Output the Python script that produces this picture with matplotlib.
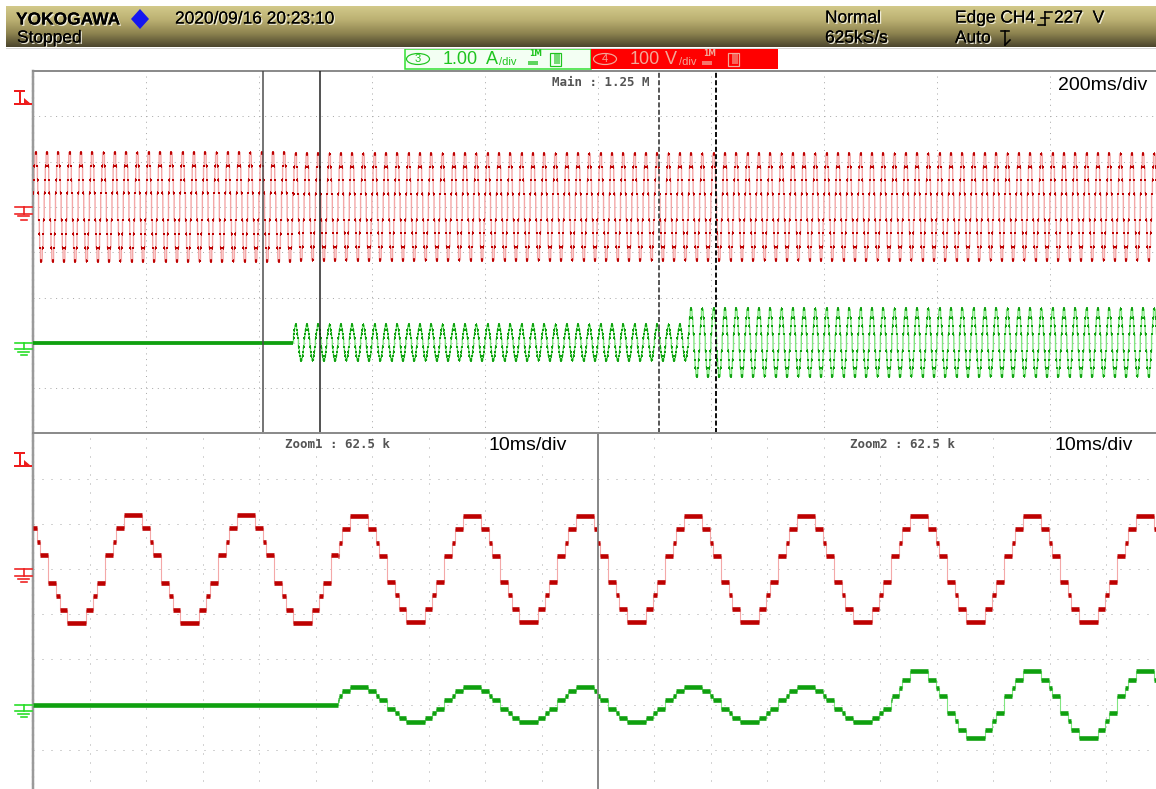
import numpy as np
import matplotlib
matplotlib.use('Agg')
import matplotlib.pyplot as plt
import matplotlib.patheffects as pe
from matplotlib.colors import LinearSegmentedColormap
from matplotlib.lines import Line2D
from matplotlib.patches import Rectangle, Ellipse, Polygon

W, H = 1156, 789

#---------------------------------------------------------------------------------------
# acquisition / channel settings

freq = 50.0
t_zero = 0.0198               # rising zero crossing of CH4 [s]
main_span = 2.0               # 10 div x 200 ms
zoom_span = 0.1               # 10 div x 10 ms
zoom_starts = [0.4071, 1.108] # Zoom1, Zoom2 window start [s]

# one cycle of the multilevel inverter output: switching angle [deg] -> level
step_deg = [0, 25, 36, 61, 119, 144, 155, 180, 205, 216, 241, 299, 324, 335]
step_lvl = [1, 2, 3, 4, 3, 2, 1, -1, -2, -3, -4, -3, -2, -1]

# load switching instants and size of one level
t_load = [0.461, 1.160]
v_step = [30.0, 29.3]          # V per level (no load / loaded)
i_step = [0.0, 0.097, 0.185]   # A per level (no load / load 1 / load 1+2)

v_div, i_div = 100.0, 1.0      # CH4 100 V/div, CH3 1.00 A/div
v_pos, i_pos = 3, 6            # ground position, div from top
trig_level = 227.0

RED_D, RED_L = '#bd0000', '#f4a8a8'
GRN_D, GRN_L = '#0fa00f', '#80e680'
FONT = 'Liberation Sans'


def fx(x):
    return x / W


def fy(y):
    return 1 - y / H


PX = 0.72   # one pixel in points at 100 dpi


def staircase(t_lo, t_hi):
    n0 = int(np.floor((t_lo - t_zero) * freq)) - 1
    n1 = int(np.ceil((t_hi - t_zero) * freq)) + 1
    cyc = np.arange(n0, n1)
    edges = (t_zero + (cyc[:, None] + np.array(step_deg)[None, :] / 360.0) / freq).ravel()
    lvl = np.tile(step_lvl, len(cyc))
    # split segments at load steps so the amplitude changes there
    cut = np.clip(np.searchsorted(edges, t_load, side='right') - 1, 0, len(lvl) - 1)
    edges = np.concatenate([edges, t_load])
    lvl = np.concatenate([lvl, lvl[cut]])
    order = np.argsort(edges, kind='stable')
    edges, lvl = edges[order], lvl[order]
    a, b, lv = edges[:-1], edges[1:], lvl[:-1]
    keep = (b > t_lo) & (a < t_hi)
    return np.clip(a[keep], t_lo, t_hi), np.clip(b[keep], t_lo, t_hi), lv[keep]


def volts(ts, lv):
    return lv * np.where(ts < t_load[0], v_step[0], v_step[1])


def amps(ts, lv):
    k = np.searchsorted(t_load, ts, side='right')
    return lv * np.array(i_step)[k]


def draw_trace(ax, a, b, vals, dark, light, flat_px, edge_px, dot_px=0):
    # join neighbouring segments that hold the same value
    idx = np.flatnonzero(np.r_[True, vals[1:] != vals[:-1]])
    a, b, vals = a[idx], np.r_[a[idx[1:]], b[-1]], vals[idx]
    tt = np.append(a, b[-1])
    yy = np.append(vals, vals[-1])
    ax.step(tt, yy, where='post', color=light, lw=edge_px * PX, zorder=2)
    ax.hlines(vals, a, b, colors=dark, lw=flat_px * PX, capstyle='butt', zorder=3)
    if dot_px:
        # compressed time base: every held level shows up as a dot
        ax.plot((a + b) / 2, vals, 's', color=dark, ms=dot_px * PX, mew=0, zorder=3)


def scope_axes(x0, y0, w, h, t_lo, span, dot_px):
    ax = fig.add_axes([fx(x0), fy(y0 + h), w / W, h / H])
    ax.set_xlim(t_lo, t_lo + span)
    ax.set_ylim(-(8 - v_pos) * v_div, v_pos * v_div)
    ax.set_xticks(t_lo + span / 10 * np.arange(1, 10))
    ax.set_yticks(np.arange(-(7 - v_pos), v_pos) * v_div)
    ax.tick_params(length=0, labelbottom=False, labelleft=False)
    ax.set_axisbelow(True)
    ax.grid(True, color='#a9a9a9', lw=PX, linestyle=(0, (1, dot_px - 1)))
    for s in ax.spines.values():
        s.set_visible(False)
    ax.spines['top'].set_visible(True)
    ax.spines['top'].set_color('#8c8c8c')
    ax.spines['top'].set_linewidth(2 * PX)
    ax.spines['left'].set_visible(True)
    ax.spines['left'].set_color('#9a9a9a')
    ax.spines['left'].set_linewidth(2.5 * PX)
    ax.spines['left'].set_linestyle((0, (2, 0.8)))
    iax = ax.twinx()
    iax.set_ylim(-(8 - i_pos) * i_div, i_pos * i_div)
    iax.set_yticks([])
    iax.axis('off')
    return ax, iax


def level_y(ax, val):
    disp = ax.transData.transform((ax.get_xlim()[0], val))
    return H - fig.transFigure.inverted().transform(disp)[1] * H


def ground_mark(ax, val, color):
    y = level_y(ax, val)
    segs = [((15, 32), (y, y)), ((23.5, 23.5), (y, y + 6.7)), ((15, 32), (y + 6.7, y + 6.7)),
            ((18, 29), (y + 9.6, y + 9.6)), ((20.5, 26.5), (y + 12.6, y + 12.6))]
    for xs, ys in segs:
        fig.add_artist(Line2D([fx(v) for v in xs], [fy(v) for v in ys], color=color, lw=1.6 * PX))


def trig_mark(ax, val, color):
    y = level_y(ax, val)
    segs = [((15, 24), (y - 13, y - 13)), ((19.5, 19.5), (y - 13, y)), ((15, 31), (y, y))]
    for xs, ys in segs:
        fig.add_artist(Line2D([fx(v) for v in xs], [fy(v) for v in ys], color=color, lw=2 * PX))
    fig.add_artist(Polygon([(fx(24), fy(y - 6)), (fx(24), fy(y)), (fx(31), fy(y))],
                           closed=True, color=color, lw=0))


fig = plt.figure(figsize=(W / 100, H / 100), dpi=100)
fig.patch.set_facecolor('white')

#---------------------------------------------------------------------------------------
# header bar

hax = fig.add_axes([fx(6), fy(47), 1 - fx(6), 41 / H])
band = LinearSegmentedColormap.from_list('band', ['#d2c98a', '#bbb072', '#8e8450', '#4c462e'])
hax.imshow(np.linspace(0, 1, 64)[:, None], aspect='auto', cmap=band, extent=(0, 1, 0, 1))
hax.axis('off')
fig.add_artist(Line2D([fx(6), 1], [fy(48), fy(48)], color='#d8d8d8', lw=PX))

shadow = [pe.withSimplePatchShadow(offset=(1, -1), shadow_rgbFace='#f4f2e4', alpha=0.9), pe.Normal()]
hdr = dict(family=FONT, color='black', va='center', fontsize=12.5, path_effects=shadow)
fig.text(fx(16), fy(20), 'YOKOGAWA', weight='bold', **hdr)
fig.add_artist(Polygon([(fx(140), fy(9)), (fx(149), fy(19)), (fx(140), fy(29)), (fx(131), fy(19))],
                       closed=True, color='#1515f0', lw=0))
fig.text(fx(175), fy(19), '2020/09/16 20:23:10', **hdr)
fig.text(fx(17), fy(38), 'Stopped', **hdr)
fig.text(fx(825), fy(18), 'Normal', **hdr)
fig.text(fx(825), fy(38), '625kS/s', **hdr)
fig.text(fx(955), fy(18), 'Edge CH4', **hdr)
fig.text(fx(1054), fy(18), '227  V', **hdr)
fig.text(fx(955), fy(38), 'Auto', **hdr)
# trigger slope and mode icons
for xs, ys in [((1038, 1045), (25, 25)), ((1045, 1045), (25, 12)), ((1045, 1052), (12, 12)),
               ((1041, 1049), (18, 18)), ((1001, 1009), (31, 31)), ((1005, 1005), (31, 45)),
               ((1005, 1010), (45, 40))]:
    fig.add_artist(Line2D([fx(v) for v in xs], [fy(v) for v in ys], color='black', lw=1.6 * PX))

#---------------------------------------------------------------------------------------
# channel boxes

fig.add_artist(Rectangle((fx(405), fy(69)), 186 / W, 20 / H, facecolor='#f3fff3',
                         edgecolor='#2ee02e', lw=1.5 * PX))
fig.add_artist(Rectangle((fx(591), fy(69)), 187 / W, 20 / H, facecolor='#ff0000', lw=0))
chan = [(418, '3', '1.00', 'A', 443, 486, 499, 528, 550, '#1fc41f'),
        (605, '4', '100', 'V', 630, 665, 679, 702, 728, '#f2a898')]
for xc, num, val, unit, xv, xu, xd, xi, xb, col in chan:
    fig.add_artist(Ellipse((fx(xc), fy(59)), 23 / W, 11 / H, fill=False, edgecolor=col, lw=1.2 * PX))
    fig.text(fx(xc), fy(59), num, fontsize=8, color=col, ha='center', va='center', family=FONT)
    fig.text(fx(xv), fy(59), val, fontsize=13, color=col, va='center', family=FONT)
    fig.text(fx(xu), fy(59), unit, fontsize=13, color=col, va='center', family=FONT)
    fig.text(fx(xd), fy(62), '/div', fontsize=8, color=col, va='center', family=FONT)
    fig.text(fx(xi + 1), fy(54), '1M', fontsize=5.5, color=col, va='center', weight='bold',
             family='DejaVu Sans')
    fig.add_artist(Rectangle((fx(xi), fy(65)), 10 / W, 4 / H, facecolor=col, lw=0, alpha=0.7))
    fig.add_artist(Rectangle((fx(xb), fy(66)), 11 / W, 13 / H, facecolor='none', edgecolor=col,
                             lw=1.2 * PX))
    fig.add_artist(Rectangle((fx(xb + 4), fy(64)), 6 / W, 10 / H, facecolor=col, lw=0, alpha=0.6))

#---------------------------------------------------------------------------------------
# main window (200 ms/div)

main_v, main_i = scope_axes(33, 71, 1130, 362.4, 0.0, main_span, 5.65)
a, b, lv = staircase(0.0, main_span)
draw_trace(main_v, a, b, volts(a, lv), RED_D, RED_L, 3.6, 1.4, dot_px=2.9)
draw_trace(main_i, a, b, amps(a, lv), GRN_D, GRN_L, 3.8, 1.4, dot_px=2.9)
main_v.spines['bottom'].set_visible(True)
main_v.spines['bottom'].set_color('#8c8c8c')
main_v.spines['bottom'].set_linewidth(2 * PX)

# zoom cursors
for t, col in [(zoom_starts[0], '#4a4a4a'), (zoom_starts[0] + zoom_span, '#1e1e1e')]:
    main_i.axvline(t, color=col, lw=1.5 * PX, zorder=6)
for t, col in [(zoom_starts[1], '#5a5a5a'), (zoom_starts[1] + zoom_span, '#111111')]:
    main_i.axvline(t, color=col, lw=2 * PX, linestyle=(0, (2.5, 1.2)), zorder=6)

mono = dict(family='DejaVu Sans Mono', weight='bold', color='#545454', fontsize=9, va='center')
fig.text(fx(649), fy(83), 'Main : 1.25 M', ha='right', **mono)
fig.text(fx(1147), fy(86), '200ms/div', ha='right', va='center', fontsize=14,
         family=FONT, color='black')

ground_mark(main_v, 0.0, '#ee1c1c')
ground_mark(main_i, 0.0, '#22dd22')
trig_mark(main_v, trig_level, '#ee1c1c')

#---------------------------------------------------------------------------------------
# zoom windows (10 ms/div)

for k, (x0, t_lo) in enumerate(zip([33, 598], zoom_starts)):
    zv, zi = scope_axes(x0, 433.4, 565, 361.6, t_lo, zoom_span, 9.0)
    a, b, lv = staircase(t_lo, t_lo + zoom_span)
    draw_trace(zv, a, b, volts(a, lv), RED_D, RED_L, 4.6, 1.1)
    draw_trace(zi, a, b, amps(a, lv), GRN_D, GRN_L, 4.6, 1.1)
    if k == 1:
        zv.spines['left'].set_linestyle('-')
        zv.spines['left'].set_color('#8a8a8a')
        zv.spines['left'].set_linewidth(2 * PX)
    else:
        ground_mark(zv, 0.0, '#ee1c1c')
        ground_mark(zi, 0.0, '#22dd22')
        trig_mark(zv, trig_level, '#ee1c1c')

for xl, name, xr in [(285, 'Zoom1 : 62.5 k', 567), (850, 'Zoom2 : 62.5 k', 1133)]:
    fig.text(fx(xl), fy(444), name, ha='left', **mono)
    fig.text(fx(xr), fy(446), '10ms/div', ha='right', va='center', fontsize=14,
             family=FONT, color='black')

fig.savefig('out.png', dpi=100)
